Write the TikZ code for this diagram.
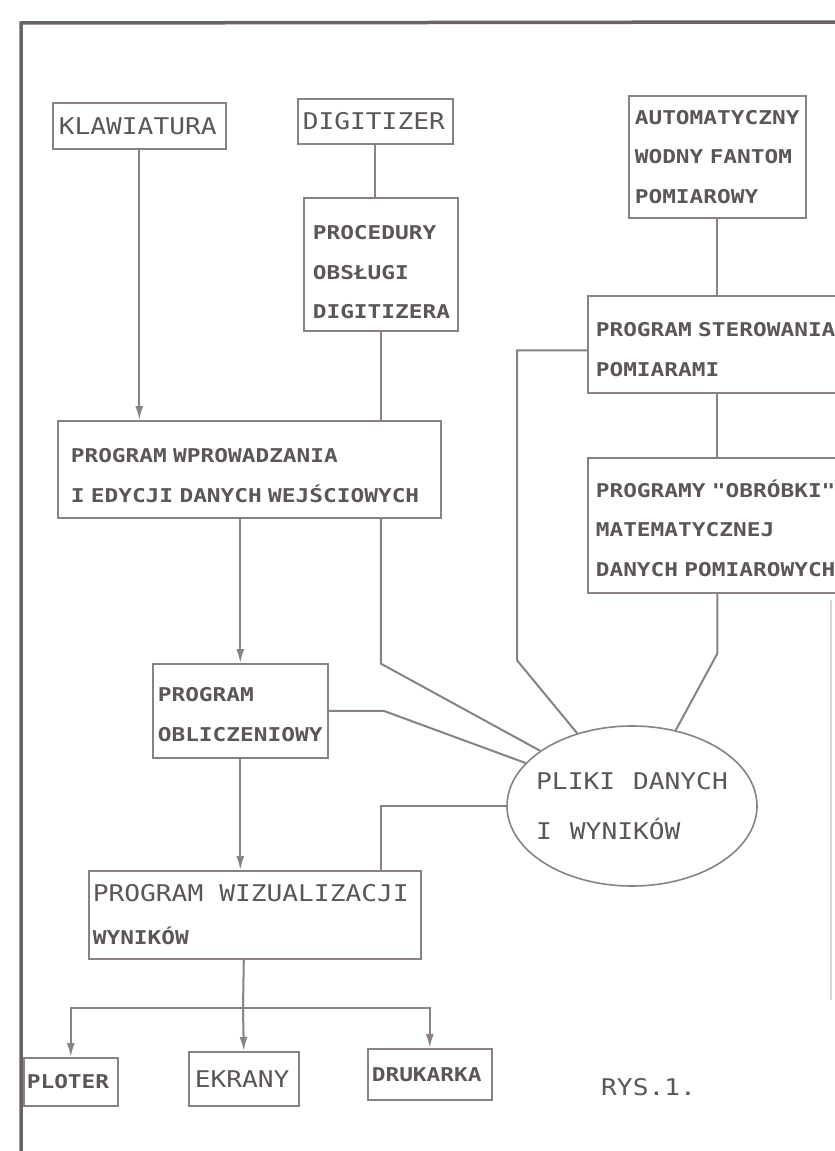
\documentclass[tikz,border=0pt]{standalone}
\usepackage{fontspec}
\usepackage{tikz}
\usetikzlibrary{arrows.meta,shapes.geometric}
\newfontfamily\plotfont[FakeStretch=1.2,WordSpace={1.2,0,0}]{DejaVu Sans Mono}
\newfontfamily\plotbig[FakeStretch=1.14,WordSpace={1.14,0,0}]{DejaVu Sans Mono}
\definecolor{linegray}{RGB}{138,130,130}
\definecolor{framegray}{RGB}{105,99,99}
\definecolor{inkgray}{RGB}{92,86,86}

\begin{document}
\begin{tikzpicture}[
  x=1pt,y=-1pt,
  box/.style={draw=linegray,line width=1.6pt,anchor=north west,align=left,
              inner xsep=8pt,inner ysep=0pt,text=inkgray,
              font=\plotfont\bfseries\fontsize{19}{39.5}\selectfont},
  bigbox/.style={box,font=\plotbig\fontsize{23}{28}\selectfont},
  droptext/.style={execute at begin node={\rule{0pt}{#1}}},
  line/.style={draw=linegray,line width=2pt},
  flow/.style={line,-{Latex[length=14pt,width=8pt]}}
]
\path[use as bounding box,fill=white] (0,0) rectangle (835,1151);
\clip (0,0) rectangle (835,1151);
\draw[framegray,line width=3.5pt] (21,1151) -- (21,23) -- (835,22);
\draw[linegray!35,line width=1.5pt] (831,600) -- (831,1000);

% inputs
\node[bigbox,text width=161pt,inner xsep=6pt,minimum height=46pt] (klaw) at (52,102) {KLAWIATURA};
\node[bigbox,text width=145pt,inner xsep=5pt,minimum height=45pt] (digit) at (297,98) {DIGITIZER};
\node[box,droptext=30pt,text width=136pt,inner xsep=9pt,minimum height=133pt] (proc) at (303,197) {PROCEDURY\\OBSŁUGI\\DIGITIZERA};
\node[box,text width=165pt,inner xsep=6pt,minimum height=122pt] (auto) at (628,95) {AUTOMATYCZNY\\WODNY FANTOM\\POMIAROWY};
\node[box,droptext=25pt,text width=297pt,minimum height=97pt] (ster) at (587,295) {PROGRAM STEROWANIA\\POMIARAMI};
\node[box,droptext=23pt,text width=297pt,minimum height=135pt] (obr) at (587,457) {PROGRAMY "OBRÓBKI"\\MATEMATYCZNEJ\\DANYCH POMIAROWYCH};

% programs
\node[box,droptext=27pt,text width=357pt,inner xsep=13pt,minimum height=97pt] (wpro) at (57,420) {PROGRAM WPROWADZANIA\\I EDYCJI DANYCH WEJŚCIOWYCH};
\node[box,droptext=22pt,text width=165pt,inner xsep=5pt,minimum height=94pt] (obl) at (152,663) {PROGRAM\\OBLICZENIOWY};
\node[draw=linegray,line width=1.6pt,ellipse,minimum width=250pt,minimum height=160pt,
      inner xsep=-12pt,inner ysep=0pt,align=left,text=inkgray,
      font=\plotbig\fontsize{23}{50}\selectfont] (pliki) at (632,806) {PLIKI DANYCH\\I WYNIKÓW};
\node[box,text width=324pt,inner xsep=4pt,minimum height=88pt,
      font=\plotfont\bfseries\fontsize{19}{43}\selectfont] (wiz) at (88,870)
      {{\plotbig\mdseries\fontsize{23}{43}\selectfont PROGRAM\hspace{16pt}WIZUALIZACJI}\\WYNIKÓW};

% outputs
\node[box,text width=88pt,inner xsep=3pt,minimum height=48pt] (ploter) at (23,1057) {PLOTER};
\node[bigbox,text width=98pt,inner xsep=6pt,minimum height=54pt] (ekrany) at (188,1051) {EKRANY};
\node[box,text width=116pt,inner xsep=4pt,minimum height=51pt] (druk) at (367,1048) {DRUKARKA};
\node[text=inkgray,font=\plotbig\fontsize{23}{28}\selectfont,anchor=west,inner sep=0pt] (rys) at (601,1087) {RYS.1.};
\coordinate (fork) at (243,1008);

\draw[flow] (klaw.south) -- (klaw.south |- wpro.north);
\draw[line] (digit.south) -- (digit.south |- proc.north);
\draw[line] (proc.south) -- (proc.south |- wpro.north);
\draw[line] (auto.south) -- (auto.south |- ster.north);
\draw[line] (auto.south |- ster.south) -- (auto.south |- obr.north);
\draw[flow] (obl.north |- wpro.south) -- (obl.north);
\draw[flow] (obl.south) -- (obl.south |- wiz.north);

% links to the data files
\draw[line] (proc.south |- wpro.south) -- ++(0,145) -- (pliki.149);
\draw[line] (obl.east) -- ++(55,0) -- (pliki.158);
\draw[line] ([yshift=-6pt]ster.west) -- ++(-70,0) -- ++(0,310) -- (pliki.127);
\draw[line] (auto.south |- obr.south) -- ++(0,60) -- (pliki.60);
\draw[line] (pliki.west) -| (proc.south |- wiz.north);

\draw[line] (ekrany.north |- wiz.south) -- (fork);
\draw[flow] (fork) -- (ekrany.north);
\draw[flow] (fork) -| (ploter.north);
\draw[flow] (fork) -| (druk.north);
\end{tikzpicture}
\end{document}
